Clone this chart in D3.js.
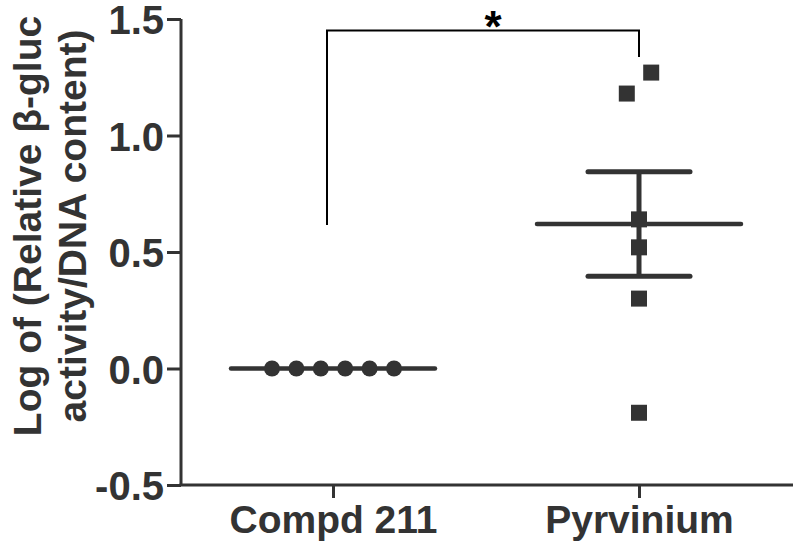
<!DOCTYPE html>
<html>
<head>
<meta charset="utf-8">
<script src="https://cdn.jsdelivr.net/npm/d3@7"></script>
<style>
  html, body { margin: 0; padding: 0; background: #fff; }
  svg { display: block; }
  text { font-family: "Liberation Sans", Arial, sans-serif; font-weight: bold; fill: #333; }
</style>
</head>
<body>
<svg id="chart" width="800" height="550"></svg>
<script>
// ---- data ----
const categories = ["Compd 211", "Pyrvinium"];
const compdValues = [0, 0, 0, 0, 0, 0];
const pyrviniumValues = [1.27, 1.18, 0.64, 0.52, 0.30, -0.19];
const yTicks = [-0.5, 0.0, 0.5, 1.0, 1.5];
const yTitleLines = ["Log of (Relative \u03B2-gluc", "activity/DNA content)"];
const significanceLabel = "*";

const series = [
  { name: categories[0], values: compdValues, shape: "circle" },
  { name: categories[1], values: pyrviniumValues, shape: "square" }
];

const svg = d3.select("#chart");
const ink = "#333";

const y = d3.scaleLinear().domain([-0.5, 1.5]).range([485, 19]);
const x = d3.scalePoint().domain(categories).range([180, 792]).padding(0.5);

// ---- axes ----
const yAxis = d3.axisLeft(y).tickValues(yTicks).tickFormat(d => d.toFixed(1)).tickSize(14).tickPadding(3);
const gy = svg.append("g").attr("transform", "translate(181,0)").call(yAxis);
gy.select(".domain").attr("stroke", ink).attr("stroke-width", 3).attr("d", `M0,${y(1.5)}V${y(-0.5)}`);
gy.selectAll(".tick line").attr("stroke", ink).attr("stroke-width", 3);
gy.selectAll(".tick text").style("font-size", "40px").attr("fill", ink)
  .attr("font-family", null).attr("dy", "0.37em");

const xAxis = d3.axisBottom(x).tickSize(13).tickPadding(8);
const gx = svg.append("g").attr("transform", `translate(0,${y(-0.5)})`).call(xAxis);
gx.select(".domain").attr("stroke", ink).attr("stroke-width", 3).attr("d", `M179.5,0H793`);
gx.selectAll(".tick line").attr("stroke", ink).attr("stroke-width", 3);
gx.selectAll(".tick text").style("font-size", "39px").attr("fill", ink)
  .attr("font-family", null).attr("dy", "0.68em");

// ---- y title ----
const yt = svg.append("text")
  .attr("transform", "translate(0,226) rotate(-90)")
  .attr("text-anchor", "middle")
  .style("font-size", "39px");
yt.selectAll("tspan").data(yTitleLines).join("tspan")
  .attr("x", 0)
  .attr("y", (d, i) => 41 + i * 45)
  .text(d => d);

// ---- helpers ----
function spread(values) {
  // group points whose pixel positions overlap and spread them horizontally
  const step = 24.4, minGap = 24;
  const idx = values.map((v, i) => i).sort((a, b) => values[a] - values[b]);
  const groups = [];
  idx.forEach(i => {
    const g = groups[groups.length - 1];
    if (g && Math.abs(y(values[g[g.length - 1]]) - y(values[i])) < minGap) g.push(i);
    else groups.push([i]);
  });
  const off = new Array(values.length).fill(0);
  groups.forEach(g => g.forEach((i, k) => { off[i] = (k - (g.length - 1) / 2) * step; }));
  return off;
}

// ---- data marks ----
series.forEach(s => {
  const cx = x(s.name);
  const n = s.values.length;
  const mean = d3.mean(s.values);
  const sem = n > 1 ? d3.deviation(s.values) / Math.sqrt(n) : 0;
  const g = svg.append("g");

  // mean line
  g.append("line")
    .attr("x1", cx - 102).attr("x2", cx + 102)
    .attr("y1", y(mean)).attr("y2", y(mean))
    .attr("stroke", ink).attr("stroke-width", 4.5).attr("stroke-linecap", "round");

  // error bars (SEM)
  if (sem > 0.001) {
    g.append("line")
      .attr("x1", cx).attr("x2", cx)
      .attr("y1", y(mean + sem)).attr("y2", y(mean - sem))
      .attr("stroke", ink).attr("stroke-width", 5);
    [mean + sem, mean - sem].forEach(v => {
      g.append("line")
        .attr("x1", cx - 51).attr("x2", cx + 51)
        .attr("y1", y(v)).attr("y2", y(v))
        .attr("stroke", ink).attr("stroke-width", 5).attr("stroke-linecap", "round");
    });
  }

  const off = spread(s.values);
  if (s.shape === "circle") {
    g.selectAll("circle").data(s.values).join("circle")
      .attr("cx", (d, i) => cx + off[i]).attr("cy", d => y(d))
      .attr("r", 8).attr("fill", ink);
  } else {
    g.selectAll("rect").data(s.values).join("rect")
      .attr("x", (d, i) => cx + off[i] - 8).attr("y", d => y(d) - 8)
      .attr("width", 16).attr("height", 16).attr("fill", ink);
  }
});

// ---- significance bracket ----
const bx1 = x(categories[0]) - 6, bx2 = x(categories[1]);
const by = 30.5;
svg.append("path")
  .attr("d", `M${bx1},225V${by}H${bx2}V57`)
  .attr("fill", "none").attr("stroke", "#000").attr("stroke-width", 2);
svg.append("text")
  .attr("x", (bx1 + bx2) / 2 + 10).attr("y", 42)
  .attr("text-anchor", "middle")
  .style("font-size", "44px").style("fill", "#000")
  .text(significanceLabel);
</script>
</body>
</html>
